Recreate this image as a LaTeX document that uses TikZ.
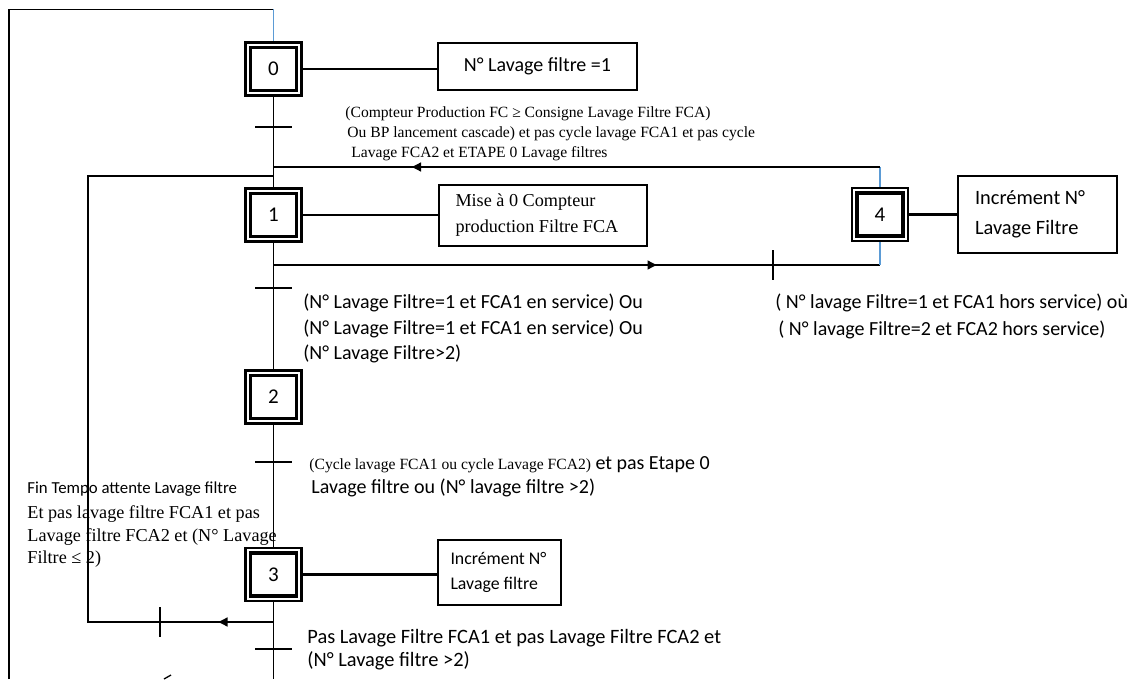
\documentclass[tikz,border=0pt]{standalone}
\usepackage{fontspec}
\setmainfont{Liberation Serif}
\newfontfamily\calib{Carlito}
\usetikzlibrary{arrows.meta,decorations.markings}
\definecolor{lnblue}{HTML}{5B9BD5}
\begin{document}
\begin{tikzpicture}[x=0.5pt,y=-0.5pt,
  every node/.style={inner sep=0pt},
  stepbox/.style={draw, line width=1.2pt, minimum width=28pt, minimum height=26.5pt,
     font=\calib\fontsize{10.5}{12}\selectfont,
     path picture={\draw[line width=1.7pt]
       ([shift={(2.5pt,-2.5pt)}]path picture bounding box.north west) rectangle
       ([shift={(-2.5pt,2.5pt)}]path picture bounding box.south east);}},
  actbox/.style={draw, line width=1pt, align=flush left},
  link/.style={line width=0.65pt},
  actlink/.style={line width=1.1pt},
  bluelink/.style={line width=0.7pt, draw=lnblue},
  tickmark/.style={line width=0.65pt},
  arrowat/.style={postaction={decorate}, decoration={markings,
      mark=at position #1 with {\arrow{Triangle[length=4.5pt,width=4.5pt]}}}},
  cond/.style={anchor=north west, align=left, font=\calib\fontsize{10}{12.75}\selectfont},
]
\useasboundingbox (0,0) rectangle (1143,679);

% steps
\node[stepbox] (s0) at (273.5,69) {0};
\node[stepbox] (s1) at (273.5,215) {1};
\node[stepbox] (s2) at (273.5,397) {2};
\node[stepbox] (s3) at (273.5,574.5) {3};
\node[stepbox] (s4) at (880,214.5) {4};

% actions
\node[actbox, align=center, minimum width=99.5pt, minimum height=23.5pt,
      font=\calib\fontsize{10}{12}\selectfont] (a0) at (537.5,66.5) {N° Lavage filtre =1};
\node[actbox, text width=87pt, inner xsep=8.5pt, minimum height=30.5pt,
      font=\fontsize{9.1}{11.5}\selectfont] (a1) at (542.5,215.5) {\vspace*{1.5pt}Mise à 0 Compteur\\production Filtre FCA};
\node[actbox, text width=62.5pt, inner xsep=8.5pt, minimum height=38.5pt,
      font=\calib\fontsize{10.2}{15}\selectfont] (a4) at (1037.5,214.5) {Incrément N°\\Lavage Filtre};
\node[actbox, text width=49pt, inner xsep=6.25pt, minimum height=32.5pt,
      font=\calib\fontsize{8.9}{12.5}\selectfont] (a3) at (499.5,572.5) {Incrément N°\\Lavage filtre};

\draw[actlink] (s0.east) -- (s0.east -| a0.west);
\draw[actlink] (s1.east) -- (s1.east -| a1.west);
\draw[actlink] (s4.east) -- (s4.east -| a4.west);
\draw[actlink] (s3.east) -- (s3.east -| a3.west);

% outer return to step 0
\coordinate (bot0) at (9,679);
\coordinate (tl) at (9,9.5);
\coordinate (top0) at (273.5,9.5);
\draw[link] (bot0) -- (tl) -- (top0);
\draw[bluelink] (top0) -- (s0.north);

% main sequence
\draw[link] (s0.south) -- (s1.north);
\draw[link] (s1.south) -- (s2.north);
\draw[link] (s2.south) -- (s3.north);
\coordinate (bot3) at (273.5,679);
\draw[link] (s3.south) -- (bot3);

% transitions on the main line
\coordinate (t0) at (273.5,127);
\coordinate (t1) at (273.5,288);
\coordinate (t2) at (273.5,462);
\coordinate (t3) at (273.5,649);
\foreach \t in {t0,t1,t2,t3}
  \draw[tickmark] ([xshift=-9.25pt]\t) -- ([xshift=9.25pt]\t);

% jump 1 -> 4
\coordinate (j1b) at (273.5,265);
\coordinate (j4b) at (880,265);
\draw[link, arrowat=191.5pt] (j1b) -- (j4b);
\draw[bluelink] (j4b) -- (s4.south);
\coordinate (t14) at (773,265);
\draw[tickmark] ([yshift=7.5pt]t14) -- ([yshift=-7.5pt]t14);

% return 4 -> 1
\coordinate (j4t) at (880,167);
\coordinate (j1t) at (273.5,167);
\draw[bluelink] (s4.north) -- (j4t);
\draw[link, arrowat=234pt] (j4t) -- (j1t);

% loop 3 -> 1
\coordinate (j3b) at (273.5,622);
\coordinate (lb) at (88,622);
\coordinate (lt) at (88,176);
\coordinate (j1l) at (273.5,176);
\draw[link, arrowat=27.5pt] (j3b) -- (lb) -- (lt) -- (j1l);
\coordinate (t31) at (160,622);
\draw[tickmark] ([yshift=7.5pt]t31) -- ([yshift=-7.5pt]t31);

% small fragment at bottom
\coordinate (fr1) at (164,679);
\coordinate (fr2) at (171,675);
\draw[link] (fr1) -- (fr2);

% transition texts
\node[anchor=north west, align=left, font=\fontsize{7.8}{10}\selectfont] (cA) at (345,106.5)
  {(Compteur Production FC ≥ Consigne Lavage Filtre FCA)\\
   \hspace*{1pt}Ou BP lancement cascade) et pas cycle lavage FCA1 et pas cycle\\
   \hspace*{3pt}Lavage FCA2 et ETAPE 0 Lavage filtres};
\node[cond] (cB) at (303,293.5)
  {(N° Lavage Filtre=1 et FCA1 en service) Ou\\
   (N° Lavage Filtre=1 et FCA1 en service) Ou\\
   (N° Lavage Filtre>2)};
\node[cond, font=\calib\fontsize{10}{13.5}\selectfont] (cC) at (775,293.5)
  {( N° lavage Filtre=1 et FCA1 hors service) où\\
   \hspace*{1.5pt}( N° lavage Filtre=2 et FCA2 hors service)};
\node[cond, font=\calib\fontsize{10}{12}\selectfont] (cD) at (309,456.5)
  {{\rmfamily\fontsize{7.8}{10}\selectfont(Cycle lavage FCA1 ou cycle Lavage FCA2)} et pas Etape 0\\
   \hspace*{1pt}Lavage filtre ou (N° lavage filtre >2)};
\node[anchor=base west, font=\calib\fontsize{8.4}{10}\selectfont] (cE1) at (27,493.5)
  {Fin Tempo attente Lavage filtre};
\node[anchor=north west, align=left, font=\fontsize{9.1}{11.25}\selectfont] (cE2) at (27,505.5)
  {Et pas lavage filtre FCA1 et pas\\
   Lavage filtre FCA2 et (N° Lavage\\
   Filtre ≤ 2)};
\node[cond, font=\calib\fontsize{10.2}{11.5}\selectfont] (cF) at (307,628.5)
  {Pas Lavage Filtre FCA1 et pas Lavage Filtre FCA2 et\\
   (N° Lavage filtre >2)};
\end{tikzpicture}
\end{document}
